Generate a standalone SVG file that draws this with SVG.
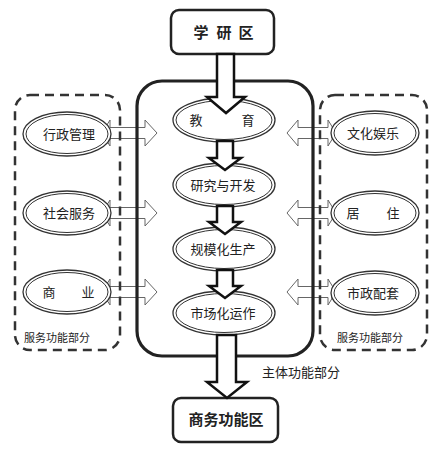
<svg xmlns="http://www.w3.org/2000/svg" width="439" height="450" viewBox="0 0 439 450">
<style>
text{font-family:"Noto Sans CJK SC","Noto Sans",sans-serif;fill:#222;text-anchor:middle}
.box{fill:#fff;stroke:#222;stroke-width:2.5}
.title{font-size:15px;font-weight:bold}
.lbl{font-size:13px}
.small{font-size:11px}
.main{fill:none;stroke:#222;stroke-width:3.2}
.dash{fill:none;stroke:#333;stroke-width:2.5;stroke-dasharray:9 6}
.eo{fill:#fff;stroke:#333;stroke-width:1.3}
.ei{fill:none;stroke:#333;stroke-width:1}
.big{fill:#fff;stroke:#111;stroke-width:2.5;stroke-linejoin:miter}
.dbl{fill:none;stroke:#666;stroke-width:1}
</style>
<g id="connectors-bg">
<path class="dbl" d="M102,133 L110,120 L110,127.5 L145,127.5 L145,120 L157,133 L145,146 L145,138.5 L110,138.5 L110,146 Z"/>
<path class="dbl" d="M102,213 L110,200 L110,207.5 L145,207.5 L145,200 L157,213 L145,226 L145,218.5 L110,218.5 L110,226 Z"/>
<path class="dbl" d="M102,292 L110,279 L110,286.5 L145,286.5 L145,279 L157,292 L145,305 L145,297.5 L110,297.5 L110,305 Z"/>
<path class="dbl" d="M287,133 L298,120 L298,127.5 L328,127.5 L328,120 L336,133 L328,146 L328,138.5 L298,138.5 L298,146 Z"/>
<path class="dbl" d="M287,213 L298,200 L298,207.5 L328,207.5 L328,200 L336,213 L328,226 L328,218.5 L298,218.5 L298,226 Z"/>
<path class="dbl" d="M287,292 L298,279 L298,286.5 L328,286.5 L328,279 L336,292 L328,305 L328,297.5 L298,297.5 L298,305 Z"/>
</g>
<g id="service-left">
<rect class="dash" x="15" y="95" width="105" height="255" rx="15"/>
<text class="small" x="57" y="342">服务功能部分</text>
</g>
<g id="service-right">
<rect class="dash" x="320" y="95" width="107" height="255" rx="15"/>
<text class="small" x="370" y="342">服务功能部分</text>
</g>
<g id="main-part">
<rect class="main" x="137" y="81" width="176" height="275" rx="25"/>
<text class="lbl" x="301" y="377">主体功能部分</text>
</g>
<g id="xueyanqu">
<rect class="box" x="171" y="10" width="103" height="44" rx="8"/>
<text class="title" x="201" y="38">学</text>
<text class="title" x="224" y="38">研</text>
<text class="title" x="246" y="38">区</text>
</g>
<g id="shangwu">
<rect class="box" x="173" y="398" width="105" height="44" rx="8"/>
<text class="title" x="226" y="425">商务功能区</text>
</g>
<g id="jiaoyu">
<ellipse class="eo" cx="224" cy="120" rx="51" ry="22"/>
<ellipse class="ei" cx="224" cy="120" rx="48" ry="19.5"/>
<text class="lbl" x="196" y="125">教</text>
<text class="lbl" x="248" y="125">育</text>
</g>
<g id="yanjiu">
<ellipse class="eo" cx="224" cy="185" rx="51" ry="22"/>
<ellipse class="ei" cx="224" cy="185" rx="48" ry="19.5"/>
<text class="lbl" x="223" y="190">研究与开发</text>
</g>
<g id="guimo">
<ellipse class="eo" cx="224" cy="249" rx="51" ry="22"/>
<ellipse class="ei" cx="224" cy="249" rx="48" ry="19.5"/>
<text class="lbl" x="223" y="254">规模化生产</text>
</g>
<g id="shichang">
<ellipse class="eo" cx="224" cy="313" rx="51" ry="22"/>
<ellipse class="ei" cx="224" cy="313" rx="48" ry="19.5"/>
<text class="lbl" x="223" y="318">市场化运作</text>
</g>
<g id="xingzheng">
<ellipse class="eo" cx="67" cy="134" rx="44" ry="22"/>
<ellipse class="ei" cx="67" cy="134" rx="41" ry="19.5"/>
<text class="lbl" x="69" y="139">行政管理</text>
</g>
<g id="shehui">
<ellipse class="eo" cx="67" cy="213" rx="44" ry="22"/>
<ellipse class="ei" cx="67" cy="213" rx="41" ry="19.5"/>
<text class="lbl" x="69" y="218">社会服务</text>
</g>
<g id="shangye">
<ellipse class="eo" cx="67" cy="292" rx="44" ry="22"/>
<ellipse class="ei" cx="67" cy="292" rx="41" ry="19.5"/>
<text class="lbl" x="49" y="297">商</text>
<text class="lbl" x="88" y="297">业</text>
</g>
<g id="wenhua">
<ellipse class="eo" cx="375" cy="133" rx="44" ry="22"/>
<ellipse class="ei" cx="375" cy="133" rx="41" ry="19.5"/>
<text class="lbl" x="373" y="138">文化娱乐</text>
</g>
<g id="juzhu">
<ellipse class="eo" cx="375" cy="213" rx="44" ry="22"/>
<ellipse class="ei" cx="375" cy="213" rx="41" ry="19.5"/>
<text class="lbl" x="353" y="218">居</text>
<text class="lbl" x="393" y="218">住</text>
</g>
<g id="shizheng">
<ellipse class="eo" cx="375" cy="293" rx="44" ry="22"/>
<ellipse class="ei" cx="375" cy="293" rx="41" ry="19.5"/>
<text class="lbl" x="373" y="298">市政配套</text>
</g>
<g id="connectors">
<path class="big" d="M217,54 L234,54 L234,97 L245,97 L226,113 L207,97 L217,97 Z"/>
<path class="big" d="M217,141 L233,141 L233,158 L241,158 L225,170 L209,158 L217,158 Z"/>
<path class="big" d="M217,206 L233,206 L233,222 L241,222 L225,234 L209,222 L217,222 Z"/>
<path class="big" d="M217,270 L233,270 L233,286 L241,286 L225,298 L209,286 L217,286 Z"/>
<path class="big" d="M217,335 L236,335 L236,382 L247,382 L227,398 L207,382 L217,382 Z"/>
</g>
</svg>
